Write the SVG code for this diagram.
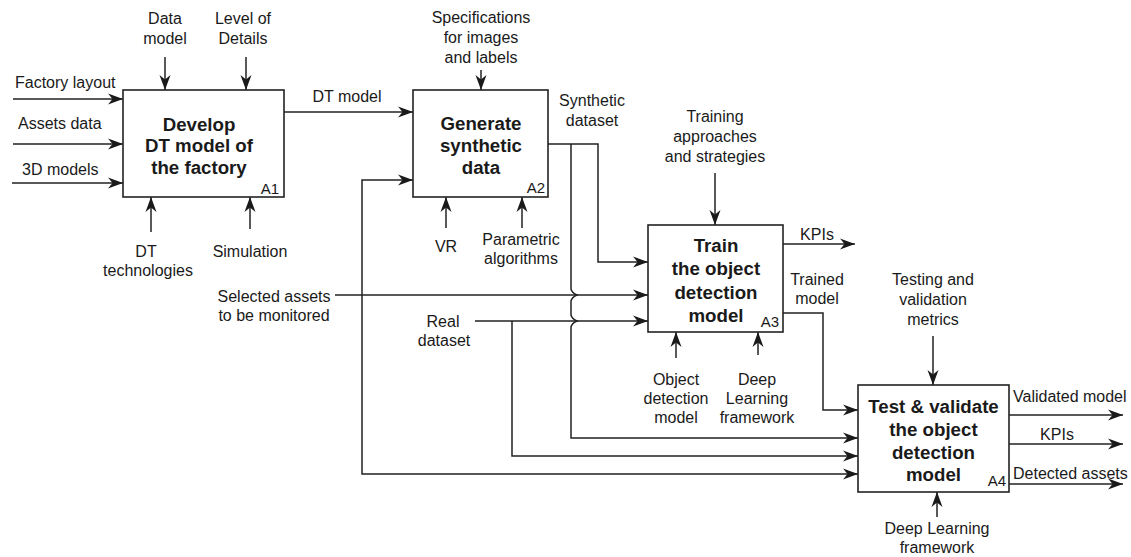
<svg xmlns="http://www.w3.org/2000/svg" width="1131" height="557" viewBox="0 0 1131 557">
  <style>
    .box { fill: #ffffff; stroke: #222222; stroke-width: 1.6; }
    .ttl { font-family: "Liberation Sans", Arial, sans-serif; font-size: 18.7px; font-weight: bold; fill: #1a1a1a; text-anchor: middle; }
    .num { font-family: "Liberation Sans", Arial, sans-serif; font-size: 15px; fill: #1a1a1a; text-anchor: end; }
    .lbl { font-family: "Liberation Sans", Arial, sans-serif; font-size: 16px; fill: #1a1a1a; }
    .mid { text-anchor: middle; }
    .con path { fill: none; stroke: #222222; stroke-width: 1.5; }
    .arrow path { marker-end: url(#head); }
  </style>
  <defs>
    <marker id="head" viewBox="-16 -6 17 12" refX="0" refY="0" markerWidth="17" markerHeight="12" markerUnits="userSpaceOnUse" orient="auto">
      <path d="M0,0 L-15,-5.5 L-10.5,0 L-15,5.5 Z" fill="#1a1a1a" stroke="none"/>
    </marker>
  </defs>

  <rect width="1131" height="557" fill="#ffffff"/>

  <!-- connectors -->
  <g id="connectors" class="con">
    <g class="arrow">
      <!-- A1 inputs -->
      <path d="M13,99 H123"/>
      <path d="M13,144 H123"/>
      <path d="M12,183 H123"/>
      <!-- A1 controls -->
      <path d="M165,57 V90"/>
      <path d="M246,57 V90"/>
      <!-- A1 mechanisms -->
      <path d="M151,232 V197"/>
      <path d="M250,229 V197"/>
      <!-- DT model -->
      <path d="M284,112 H413"/>
      <!-- A2 control and mechanisms -->
      <path d="M481,70 V90"/>
      <path d="M446,228 V197"/>
      <path d="M522,228 V197"/>
      <!-- synthetic dataset to A3 -->
      <path d="M548,144 H598 V262 H648"/>
      <!-- synthetic dataset to A4, hopping over two lines -->
      <path d="M571,144 V289 Q572,293 577,295 Q572,297 571,301 V315 Q572,319 577,321 Q572,323 571,327 V438 H858"/>
      <!-- selected assets -->
      <path d="M335,295 H648"/>
      <path d="M362,295 V180 H413"/>
      <path d="M362,295 V474 H858"/>
      <!-- real dataset -->
      <path d="M475,321 H648"/>
      <path d="M512,321 V456 H858"/>
      <!-- A3 control and mechanisms -->
      <path d="M715,173 V225"/>
      <path d="M676,358 V332"/>
      <path d="M758,355 V332"/>
      <!-- A3 outputs -->
      <path d="M783,244 H855"/>
      <path d="M783,313 H823 V410 H858"/>
      <!-- A4 control and mechanism -->
      <path d="M933,336 V385"/>
      <path d="M937,517 V492"/>
      <!-- A4 outputs -->
      <path d="M1009,415 H1123"/>
      <path d="M1009,444 H1123"/>
      <path d="M1009,484 H1123"/>
    </g>
  </g>

  <!-- A1 -->
  <g id="a1">
    <rect class="box" x="123" y="90" width="161" height="107"/>
    <text class="ttl" x="199" y="130.5">Develop</text>
    <text class="ttl" x="199" y="152">DT model of</text>
    <text class="ttl" x="199" y="173.5">the factory</text>
    <text class="num" x="279" y="194">A1</text>
  </g>

  <!-- A2 -->
  <g id="a2">
    <rect class="box" x="413" y="90" width="135" height="107"/>
    <text class="ttl" x="481" y="130">Generate</text>
    <text class="ttl" x="481" y="152">synthetic</text>
    <text class="ttl" x="481" y="174">data</text>
    <text class="num" x="545" y="193">A2</text>
  </g>

  <!-- A3 -->
  <g id="a3">
    <rect class="box" x="648" y="225" width="135" height="107"/>
    <text class="ttl" x="716" y="251.5">Train</text>
    <text class="ttl" x="716" y="275">the object</text>
    <text class="ttl" x="716" y="298.5">detection</text>
    <text class="ttl" x="716" y="321.5">model</text>
    <text class="num" x="779" y="327">A3</text>
  </g>

  <!-- A4 -->
  <g id="a4">
    <rect class="box" x="858" y="385" width="151" height="107"/>
    <text class="ttl" x="933.5" y="413">Test &amp; validate</text>
    <text class="ttl" x="933.5" y="436">the object</text>
    <text class="ttl" x="933.5" y="458.5">detection</text>
    <text class="ttl" x="933.5" y="481">model</text>
    <text class="num" x="1006" y="486">A4</text>
  </g>

  <!-- labels of inputs, controls, outputs and mechanisms -->
  <g id="labels" class="lbl">
    <text x="15" y="88">Factory layout</text>
    <text x="18" y="129">Assets data</text>
    <text x="22" y="175">3D models</text>

    <text class="mid" x="165" y="24">Data</text>
    <text class="mid" x="165" y="44">model</text>
    <text class="mid" x="243" y="24">Level of</text>
    <text class="mid" x="243" y="44">Details</text>

    <text class="mid" x="146" y="257">DT</text>
    <text class="mid" x="148" y="276">technologies</text>
    <text class="mid" x="250" y="257">Simulation</text>

    <text class="mid" x="347" y="102">DT model</text>

    <text class="mid" x="481" y="23">Specifications</text>
    <text class="mid" x="481" y="43">for images</text>
    <text class="mid" x="481" y="63">and labels</text>

    <text class="mid" x="446" y="252">VR</text>
    <text class="mid" x="521" y="245">Parametric</text>
    <text class="mid" x="521" y="264">algorithms</text>

    <text class="mid" x="592" y="106">Synthetic</text>
    <text class="mid" x="592" y="126">dataset</text>

    <text class="mid" x="715" y="122">Training</text>
    <text class="mid" x="715" y="142">approaches</text>
    <text class="mid" x="715" y="162">and strategies</text>

    <text class="mid" x="817" y="240">KPIs</text>
    <text class="mid" x="817" y="285">Trained</text>
    <text class="mid" x="817" y="304">model</text>

    <text class="mid" x="274" y="302">Selected assets</text>
    <text class="mid" x="274" y="321">to be monitored</text>

    <text class="mid" x="443" y="327">Real</text>
    <text class="mid" x="444" y="346">dataset</text>

    <text class="mid" x="676" y="385">Object</text>
    <text class="mid" x="676" y="404">detection</text>
    <text class="mid" x="676" y="423">model</text>
    <text class="mid" x="757" y="385">Deep</text>
    <text class="mid" x="757" y="404">Learning</text>
    <text class="mid" x="757" y="423">framework</text>

    <text class="mid" x="933" y="285">Testing and</text>
    <text class="mid" x="933" y="305">validation</text>
    <text class="mid" x="933" y="325">metrics</text>

    <text x="1013" y="402">Validated model</text>
    <text class="mid" x="1057" y="440">KPIs</text>
    <text x="1013" y="479">Detected assets</text>

    <text class="mid" x="937" y="534">Deep Learning</text>
    <text class="mid" x="937" y="553">framework</text>
  </g>
</svg>
